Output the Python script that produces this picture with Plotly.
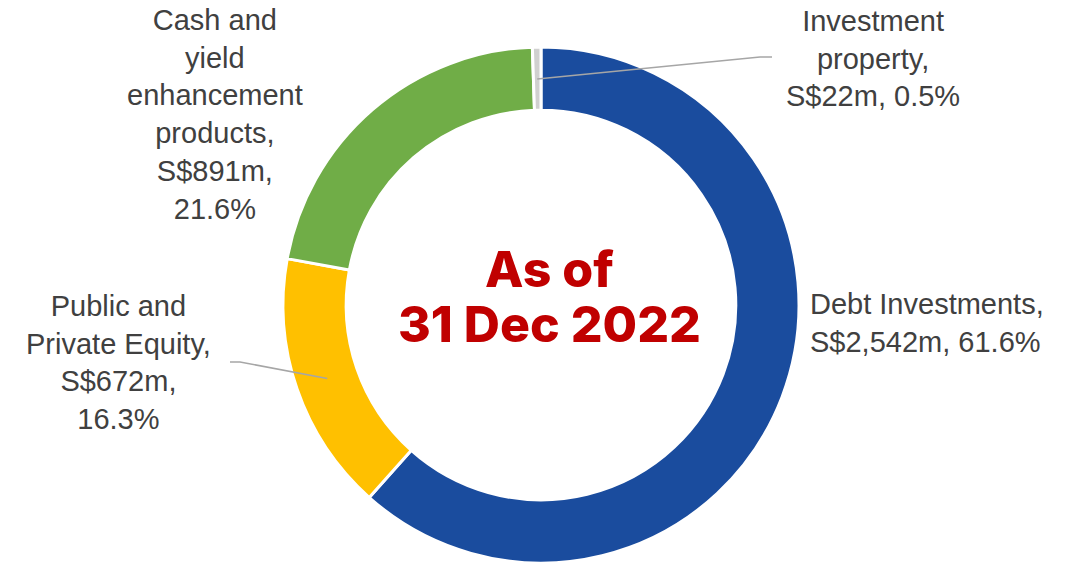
"""Donut of portfolio allocation as of 31 Dec 2022."""
import numpy as np
import plotly.graph_objects as go

W, H = 1071, 563
OFF = 8  # page body margin the figure sits inside

labels = ["Debt Investments", "Public and Private Equity",
          "Cash and yield enhancement products", "Investment property"]
values_m = [2542, 672, 891, 22]
pcts = [61.6, 16.3, 21.6, 0.5]
colors = ["#1A4C9E", "#FFC000", "#70AD47", "#D0D0D0"]
label_text = [
    "Debt Investments,<br>S$2,542m, 61.6%",
    "Public and<br>Private Equity,<br>S$672m,<br>16.3%",
    "Cash and<br>yield<br>enhancement<br>products,<br>S$891m,<br>21.6%",
    "Investment<br>property,<br>S$22m, 0.5%",
]

# page-pixel geometry of the ring
CX, CY, R = 541, 305, 258


def px(x, y):
    return (x - OFF) / W, 1 - (y - OFF) / H


fig = go.Figure()
x0, y1 = px(CX - R, CY - R)
x1, y0 = px(CX + R, CY + R)
fig.add_pie(labels=labels, values=values_m, sort=False, direction="clockwise",
            rotation=0, hole=0.755, textinfo="none", hoverinfo="label+value",
            marker=dict(colors=colors, line=dict(color="white", width=3)),
            domain=dict(x=[x0, x1], y=[max(y0, 0), y1]),
            showlegend=False)

# anchor points on the ring, from the slice mid angles
cum = np.cumsum(values_m) - np.array(values_m) / 2
ang = 2 * np.pi * cum / sum(values_m)


def anchor(i, r=226):
    return CX + r * np.sin(ang[i]), CY - r * np.cos(ang[i])


shapes = []
for i, (ex, ey) in [(3, (760, 57)), (1, (240, 362))]:
    sx, sy = anchor(i)
    hx = ex + 12 if i == 3 else ex - 10
    pts = [px(sx, sy), px(ex, ey), px(hx, ey)]
    path = "M {} {} L {} {} L {} {}".format(*[c for p in pts for c in p])
    shapes.append(dict(type="path", path=path, xref="paper", yref="paper",
                       line=dict(color="#A6A6A6", width=1.5)))

font = dict(family="Liberation Sans, Arial", size=29, color="#404040")
pos = [(808, 323, "left"), (118, 363, "center"), (215, 115, "center"),
       (873, 59, "center")]
annotations = []
for t, (x, y, xa) in zip(label_text, pos):
    ax, ay = px(x, y)
    annotations.append(dict(text=t, x=ax, y=ay, xref="paper", yref="paper",
                            xanchor=xa, yanchor="middle", align=xa,
                            showarrow=False, font=font))

cfont = dict(family="Inter", size=50, color="#C00000", weight=800)
for t, y in [("As of", 269), ("31 Dec 2022", 324)]:
    ax, ay = px(549, y)
    annotations.append(dict(text=t, x=ax, y=ay, xref="paper", yref="paper",
                            xanchor="center", yanchor="middle",
                            showarrow=False, font=cfont))

fig.update_layout(width=W, height=H, margin=dict(l=0, r=0, t=0, b=0),
                  paper_bgcolor="white", plot_bgcolor="white",
                  shapes=shapes, annotations=annotations)
fig.write_html("out.html")
